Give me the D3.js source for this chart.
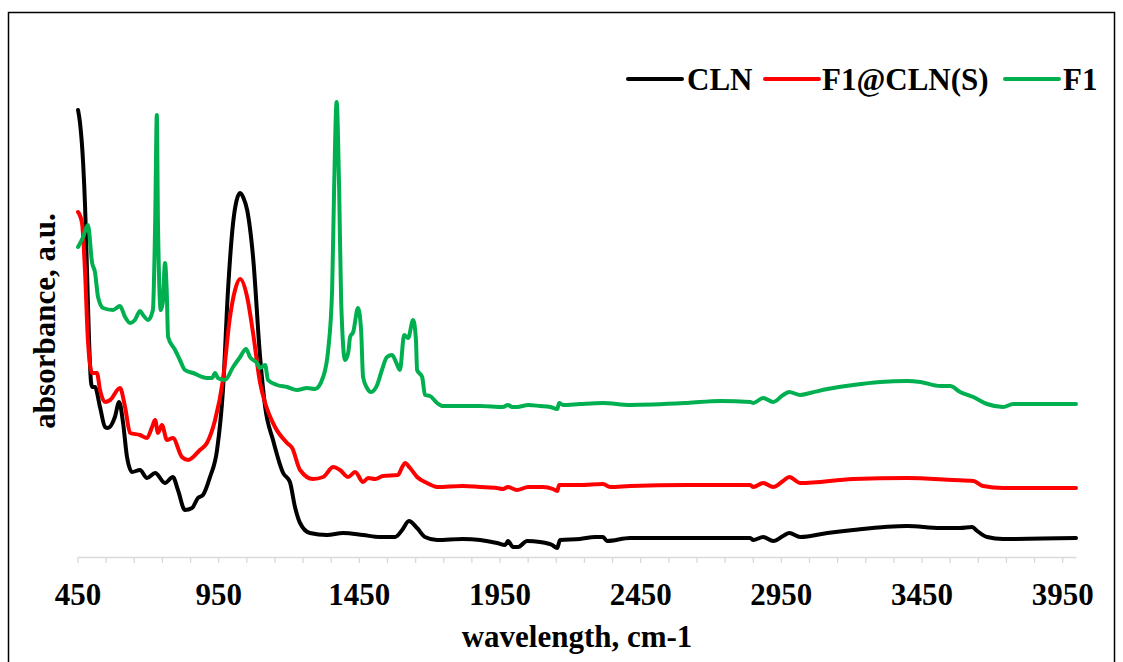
<!DOCTYPE html>
<html>
<head>
<meta charset="utf-8">
<script src="https://cdn.jsdelivr.net/npm/d3@7/dist/d3.min.js"></script>
<style>
  html, body { margin: 0; padding: 0; background: #fff; }
  svg { display: block; }
</style>
</head>
<body>
<svg id="chart" width="1123" height="662"></svg>
<script>
// ---- data (wavenumber, absorbance a.u.) ----
const seriesNames = ["CLN", "F1@CLN(S)", "F1"];
const seriesColors = ["#000000", "#ff0000", "#00b050"];

const clnWn = [452,459,470,477,484,491,498,502,512,530,548,558,583,598,612,626,644,672,697,726,761,789,807,832,857,878,896,921,946,967,985,1003,1015,1028,1040,1053,1074,1099,1117,1145,1181,1205,1223,1241,1276,1337,1394,1465,1525,1579,1604,1628,1657,1685,1728,1820,1881,1941,1970,1980,1998,2016,2048,2094,2137,2155,2165,2236,2290,2318,2332,2414,2652,2841,2852,2887,2923,2958,2980,3019,3115,3207,3399,3516,3587,3630,3648,3683,3740,3999];
const clnAbs = [0.894,0.868,0.788,0.700,0.568,0.434,0.350,0.340,0.340,0.300,0.260,0.258,0.280,0.310,0.268,0.200,0.170,0.174,0.158,0.168,0.148,0.160,0.134,0.094,0.098,0.118,0.124,0.160,0.214,0.334,0.534,0.668,0.712,0.728,0.718,0.694,0.600,0.400,0.300,0.234,0.168,0.150,0.100,0.068,0.048,0.044,0.048,0.044,0.040,0.040,0.054,0.072,0.058,0.040,0.034,0.036,0.034,0.028,0.024,0.032,0.020,0.020,0.032,0.030,0.024,0.018,0.034,0.036,0.040,0.040,0.032,0.038,0.038,0.038,0.034,0.040,0.032,0.042,0.048,0.040,0.048,0.054,0.062,0.058,0.058,0.060,0.052,0.040,0.036,0.038];

const f1clnWn = [452,466,477,487,502,519,530,548,566,601,619,637,672,697,715,726,736,750,768,789,821,843,885,910,939,967,992,1010,1028,1053,1074,1099,1117,1152,1195,1213,1241,1287,1323,1359,1383,1412,1437,1465,1483,1508,1536,1589,1604,1614,1632,1657,1692,1728,1820,1881,1941,1962,1980,2012,2052,2105,2140,2155,2162,2236,2318,2343,2414,2617,2841,2852,2887,2923,2958,2980,3019,3207,3399,3562,3634,3669,3740,3999];
const f1clnAbs = [0.690,0.668,0.568,0.434,0.368,0.368,0.334,0.310,0.314,0.338,0.300,0.248,0.244,0.238,0.260,0.274,0.248,0.264,0.234,0.238,0.200,0.194,0.214,0.228,0.274,0.354,0.480,0.534,0.556,0.520,0.448,0.348,0.308,0.260,0.228,0.218,0.174,0.156,0.160,0.180,0.174,0.160,0.170,0.150,0.158,0.156,0.162,0.164,0.180,0.188,0.178,0.160,0.148,0.140,0.142,0.140,0.138,0.136,0.140,0.134,0.140,0.140,0.136,0.132,0.144,0.144,0.146,0.140,0.142,0.144,0.144,0.140,0.148,0.140,0.152,0.160,0.148,0.156,0.158,0.154,0.152,0.142,0.138,0.138];

const f1Wn = [452,470,487,502,512,523,541,576,601,619,637,654,672,683,701,718,726,732,736,746,753,761,767,772,797,814,832,861,910,928,939,949,974,1003,1028,1049,1063,1088,1099,1117,1127,1159,1195,1230,1266,1294,1323,1341,1355,1362,1371,1380,1387,1401,1412,1419,1430,1447,1458,1465,1479,1493,1515,1532,1550,1568,1582,1596,1611,1625,1643,1653,1657,1675,1685,1703,1728,1749,1820,1881,1962,1980,1995,2012,2052,2094,2130,2155,2162,2176,2236,2318,2414,2617,2734,2841,2852,2887,2923,2958,2980,3019,3054,3115,3207,3303,3399,3446,3516,3552,3587,3634,3683,3740,3776,3999];
const f1Abs = [0.620,0.640,0.664,0.588,0.570,0.520,0.498,0.494,0.502,0.480,0.468,0.474,0.492,0.484,0.474,0.494,0.668,0.884,0.668,0.494,0.508,0.588,0.534,0.440,0.414,0.394,0.374,0.368,0.358,0.358,0.368,0.358,0.354,0.380,0.400,0.416,0.400,0.388,0.378,0.384,0.354,0.344,0.340,0.334,0.338,0.336,0.360,0.414,0.534,0.734,0.910,0.734,0.514,0.394,0.408,0.440,0.450,0.498,0.454,0.360,0.338,0.330,0.344,0.374,0.400,0.404,0.390,0.374,0.444,0.438,0.474,0.434,0.374,0.360,0.324,0.322,0.308,0.302,0.302,0.302,0.300,0.304,0.300,0.300,0.304,0.302,0.300,0.296,0.308,0.304,0.306,0.308,0.304,0.308,0.312,0.310,0.308,0.318,0.310,0.324,0.330,0.324,0.328,0.336,0.344,0.350,0.352,0.350,0.342,0.342,0.330,0.320,0.306,0.300,0.306,0.306];

const tickValues = d3.range(450, 3951, 100);
const labelValues = [450, 950, 1450, 1950, 2450, 2950, 3450, 3950];
const xTitle = "wavelength, cm-1";
const yTitle = "absorbance, a.u.";

// ---- drawing ----
const svg = d3.select("#chart");
const FONT = "'Liberation Serif', 'Times New Roman', serif";

svg.append("rect")
  .attr("x", 8.5).attr("y", 12.5)
  .attr("width", 1106).attr("height", 660)
  .attr("fill", "none").attr("stroke", "#000").attr("stroke-width", 1.5);

const x = d3.scaleLinear().domain([450, 3999]).range([77.5, 1076]);
const y = d3.scaleLinear().domain([0, 1]).range([557, 57]);

const xAxis = d3.axisBottom(x)
  .tickValues(tickValues)
  .tickSize(6)
  .tickSizeOuter(0)
  .tickFormat(d => labelValues.includes(d) ? String(d) : "");

const gx = svg.append("g").attr("transform", "translate(0,557)").call(xAxis);
gx.select(".domain").attr("stroke", "#d9d9d9").attr("stroke-width", 1.3);
gx.selectAll(".tick line").attr("stroke", "#d9d9d9").attr("stroke-width", 1.3);
gx.selectAll(".tick text")
  .attr("y", 48).attr("dy", 0)
  .attr("fill", "#000")
  .style("font-family", FONT).style("font-weight", "bold").style("font-size", "31px");

svg.append("text")
  .attr("x", 577).attr("y", 647)
  .attr("text-anchor", "middle")
  .style("font-family", FONT).style("font-weight", "bold").style("font-size", "31px")
  .text(xTitle);

svg.append("text")
  .attr("transform", "translate(55,321) rotate(-90)")
  .attr("text-anchor", "middle")
  .style("font-family", FONT).style("font-weight", "bold").style("font-size", "31px")
  .text(yTitle);

const series = [
  { name: seriesNames[0], color: seriesColors[0], pts: clnWn.map((w, i) => [w, clnAbs[i]]) },
  { name: seriesNames[1], color: seriesColors[1], pts: f1clnWn.map((w, i) => [w, f1clnAbs[i]]) },
  { name: seriesNames[2], color: seriesColors[2], pts: f1Wn.map((w, i) => [w, f1Abs[i]]) }
];

const line = d3.line()
  .x(d => x(d[0])).y(d => y(d[1]))
  .curve(d3.curveMonotoneX);

svg.append("g").selectAll("path")
  .data(series).join("path")
  .attr("d", d => line(d.pts))
  .attr("fill", "none")
  .attr("stroke", d => d.color)
  .attr("stroke-width", 4)
  .attr("stroke-linejoin", "round")
  .attr("stroke-linecap", "round");

// legend
const legendItems = [
  { lx: 628, tx: 687 },
  { lx: 765, tx: 822 },
  { lx: 1005, tx: 1063 }
];
const lg = svg.append("g");
series.forEach((s, i) => {
  const it = legendItems[i];
  lg.append("line")
    .attr("x1", it.lx).attr("x2", it.lx + 54)
    .attr("y1", 79).attr("y2", 79)
    .attr("stroke", s.color).attr("stroke-width", 4).attr("stroke-linecap", "round");
  lg.append("text")
    .attr("x", it.tx).attr("y", 90)
    .style("font-family", FONT).style("font-weight", "bold").style("font-size", "31px")
    .text(s.name);
});
</script>
</body>
</html>
